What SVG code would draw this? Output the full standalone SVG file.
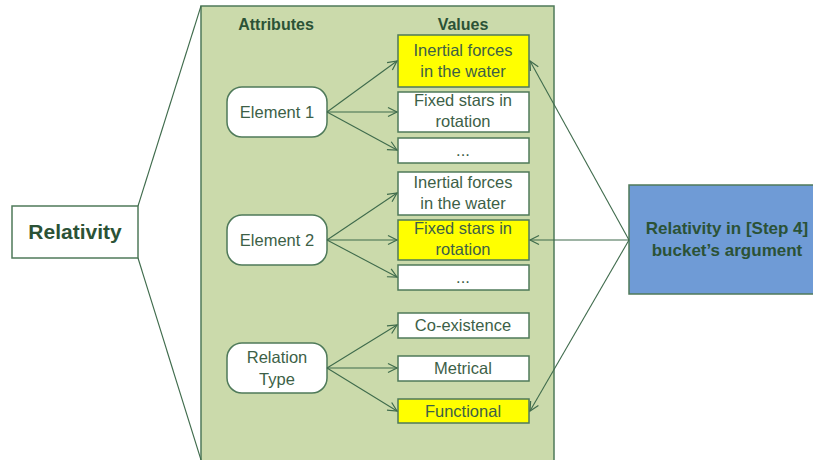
<svg xmlns="http://www.w3.org/2000/svg" width="813" height="460" viewBox="0 0 813 460">
<defs>
<marker id="ah" markerWidth="12" markerHeight="12" refX="10" refY="6" orient="auto" markerUnits="userSpaceOnUse">
<path d="M1,1.5 L10,6 L1,10.5" fill="none" stroke="#3f6b4c" stroke-width="1.2"/>
</marker>
<style>
.t{font-family:"Liberation Sans",Arial,sans-serif;fill:#3d5f47;font-size:16.5px;text-anchor:middle}
.b{font-weight:bold;fill:#2b5236}
.attr{fill:#fff;stroke:#4f7a5a;stroke-width:1.5}
.val{fill:#fff;stroke:#4f7a5a;stroke-width:1.5}
.y{fill:#ffff00}
.c{fill:none;stroke:#3f6b4c;stroke-width:1.1}
</style>
</defs>
<rect x="0" y="0" width="813" height="460" fill="#fff"/>
<g id="panel">
<rect x="201" y="6" width="353" height="470" fill="#cbdaab" stroke="#4f7a5a" stroke-width="1.5"/>
<text class="t b" x="276" y="30" style="font-size:16px">Attributes</text>
<text class="t b" x="463" y="30" style="font-size:16px">Values</text>
</g>
<g id="relativity">
<rect x="12" y="206" width="126" height="52" fill="#fff" stroke="#4f7a5a" stroke-width="1.5"/>
<text class="t b" x="75" y="239" style="font-size:21px">Relativity</text>
</g>
<g id="bucket">
<rect x="629" y="185" width="200" height="109" fill="#6f9bd6" stroke="#4f7a5a" stroke-width="1.5"/>
<text class="t b" x="727" y="234" style="font-size:17px">Relativity in [Step 4]</text>
<text class="t b" x="727" y="256" style="font-size:17px">bucket’s argument</text>
</g>
<g id="element1">
<rect class="attr" x="227" y="87" width="100" height="50" rx="15"/>
<text class="t" x="277" y="118">Element 1</text>
</g>
<g id="element2">
<rect class="attr" x="227" y="215" width="100" height="50" rx="15"/>
<text class="t" x="277" y="246">Element 2</text>
</g>
<g id="relationtype">
<rect class="attr" x="227" y="343" width="100" height="50" rx="15"/>
<text class="t" x="277" y="363">Relation</text>
<text class="t" x="277" y="385">Type</text>
</g>
<g id="v1">
<rect class="val y" x="398" y="35" width="131" height="52"/>
<text class="t" x="463" y="56">Inertial forces</text>
<text class="t" x="463" y="77">in the water</text>
</g>
<g id="v2">
<rect class="val" x="398" y="92" width="131" height="40"/>
<text class="t" x="463" y="106">Fixed stars in</text>
<text class="t" x="463" y="127">rotation</text>
</g>
<g id="v3">
<rect class="val" x="398" y="138" width="131" height="25"/>
<text class="t" x="463" y="156">...</text>
</g>
<g id="v4">
<rect class="val" x="398" y="172" width="131" height="43"/>
<text class="t" x="463" y="188">Inertial forces</text>
<text class="t" x="463" y="209">in the water</text>
</g>
<g id="v5">
<rect class="val y" x="398" y="220" width="131" height="40"/>
<text class="t" x="463" y="234">Fixed stars in</text>
<text class="t" x="463" y="255">rotation</text>
</g>
<g id="v6">
<rect class="val" x="398" y="265" width="131" height="25"/>
<text class="t" x="463" y="283">...</text>
</g>
<g id="v7">
<rect class="val" x="398" y="313" width="131" height="25"/>
<text class="t" x="463" y="331">Co-existence</text>
</g>
<g id="v8">
<rect class="val" x="398" y="356" width="131" height="25"/>
<text class="t" x="463" y="374">Metrical</text>
</g>
<g id="v9">
<rect class="val y" x="398" y="399" width="131" height="24"/>
<text class="t" x="463" y="417">Functional</text>
</g>
<g id="connectors">
<line class="c" x1="138" y1="206" x2="201" y2="6"/>
<line class="c" x1="138" y1="258" x2="201" y2="460"/>
<line class="c" x1="327" y1="112" x2="397" y2="61" marker-end="url(#ah)"/>
<line class="c" x1="327" y1="112" x2="397" y2="112" marker-end="url(#ah)"/>
<line class="c" x1="327" y1="112" x2="397" y2="150" marker-end="url(#ah)"/>
<line class="c" x1="327" y1="240" x2="397" y2="193" marker-end="url(#ah)"/>
<line class="c" x1="327" y1="240" x2="397" y2="240" marker-end="url(#ah)"/>
<line class="c" x1="327" y1="240" x2="397" y2="277" marker-end="url(#ah)"/>
<line class="c" x1="327" y1="368" x2="397" y2="325" marker-end="url(#ah)"/>
<line class="c" x1="327" y1="368" x2="397" y2="368" marker-end="url(#ah)"/>
<line class="c" x1="327" y1="368" x2="397" y2="411" marker-end="url(#ah)"/>
<line class="c" x1="629" y1="240" x2="530" y2="61" marker-end="url(#ah)"/>
<line class="c" x1="629" y1="240" x2="530" y2="240" marker-end="url(#ah)"/>
<line class="c" x1="629" y1="240" x2="530" y2="411" marker-end="url(#ah)"/>
</g>
</svg>
